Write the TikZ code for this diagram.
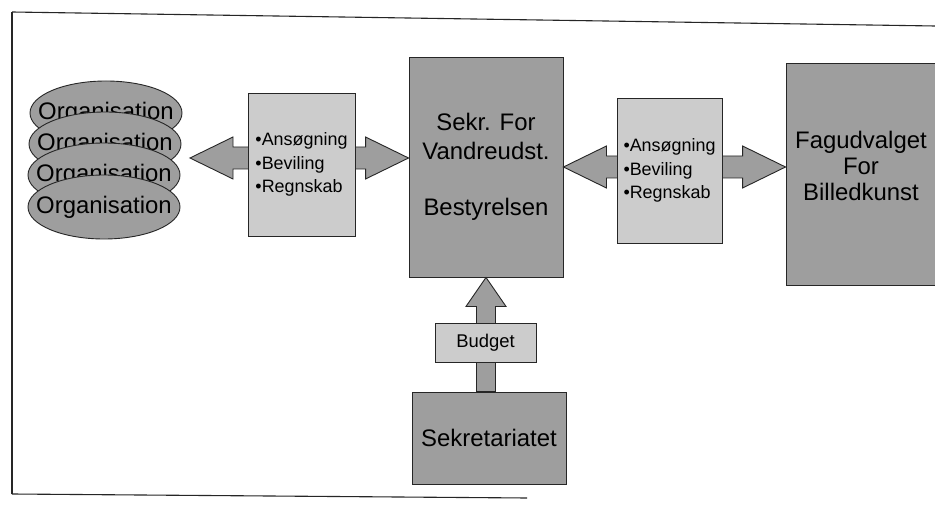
\documentclass[tikz,border=0pt]{standalone}
\usepackage{fontspec}
\setmainfont{Liberation Sans}
\usetikzlibrary{calc,shapes.geometric}
\newcommand{\hdarrow}[2]{%
  \path[fatarrow] (#1) -- ($(#1)+(43,-21)$) -- ($(#1)+(43,-11)$) -- ($(#2)+(-43,-11)$) -- ($(#2)+(-43,-21)$) -- (#2) -- ($(#2)+(-43,21)$) -- ($(#2)+(-43,11)$) -- ($(#1)+(43,11)$) -- ($(#1)+(43,21)$) -- cycle;}
\newcommand{\orgtext}{\makebox[0pt]{Organisation}}
\begin{document}
\begin{tikzpicture}[x=1bp,y=-1bp,
  outl/.style={draw=black!85, line width=0.9bp},
  bigbox/.style={outl, fill=black!38, rectangle, inner sep=0pt},
  smallbox/.style={outl, fill=black!20, rectangle, inner sep=0pt},
  orgell/.style={outl, fill=black!38, ellipse, minimum width=152bp, minimum height=64bp, inner sep=0pt, font=\fontsize{24}{28}\selectfont},
  fatarrow/.style={outl, fill=black!38, line join=miter},
  bigtext/.style={font=\fontsize{24}{28.7}\selectfont, align=center},
  smalltext/.style={font=\fontsize{18}{23.5}\selectfont, align=left},
  frameline/.style={draw=black!85, line width=1.1bp}
]
\useasboundingbox (0,0) rectangle (935,514);
\clip (0,0) rectangle (935,514);
\fill[white] (0,0) rectangle (935,514);
% frame
\coordinate (ftl) at (12,12);
\coordinate (ftr) at (935,26);
\coordinate (fbl) at (12,494);
\coordinate (fbr) at (527,498);
\draw[frameline] (ftl) -- (ftr);
\draw[frameline] (ftl) -- (fbl);
\draw[frameline] (fbl) -- (fbr);
% organisations
\node[orgell] (org1) at (106,113) {\orgtext};
\node[orgell] (org2) at (105,144) {\orgtext};
\node[orgell] (org3) at (104,175) {\orgtext};
\node[orgell] (org4) at (104,207) {\orgtext};
% main boxes
\node[bigbox, minimum width=154bp, minimum height=220bp, bigtext] (sekr) at (486,167) {Sekr. For\\Vandreudst.\\[28bp]Bestyrelsen};
\node[bigbox, minimum width=154bp, minimum height=222bp] (fag) at (863,174) {};
\node[bigtext, font=\fontsize{24}{26.5}\selectfont] (fagtxt) at (861,166) {Fagudvalget\\For\\Billedkunst};
\node[bigbox, minimum width=154bp, minimum height=92bp, bigtext] (sekre) at (489,438) {Sekretariatet};
% arrows
\coordinate (lta) at (190,158);
\coordinate (ltb) at (lta -| sekr.west);
\hdarrow{lta}{ltb}
\coordinate (rtb) at (sekr.east -| fag.west);
\hdarrow{sekr.east}{rtb}
\coordinate (upb) at (sekr.south |- sekre.north);
\path[fatarrow] (sekr.south) -- ($(sekr.south)+(20,29)$) -- ($(sekr.south)+(9.5,29)$) -- ($(upb)+(9.5,0)$) -- ($(upb)+(-9.5,0)$) -- ($(sekr.south)+(-9.5,29)$) -- ($(sekr.south)+(-20,29)$) -- cycle;
% small boxes
\node[smallbox, minimum width=107bp, minimum height=143bp, smalltext] (lbox) at (301.5,164.5) {•Ansøgning\\•Beviling\\•Regnskab};
\node[smallbox, minimum width=105bp, minimum height=145bp, smalltext] (rbox) at (669.5,170.5) {•Ansøgning\\•Beviling\\•Regnskab};
\node[smallbox, minimum width=101bp, minimum height=39bp, font=\fontsize{18.5}{22}\selectfont] (budget) at (485.5,342.5) {Budget};
\end{tikzpicture}
\end{document}
